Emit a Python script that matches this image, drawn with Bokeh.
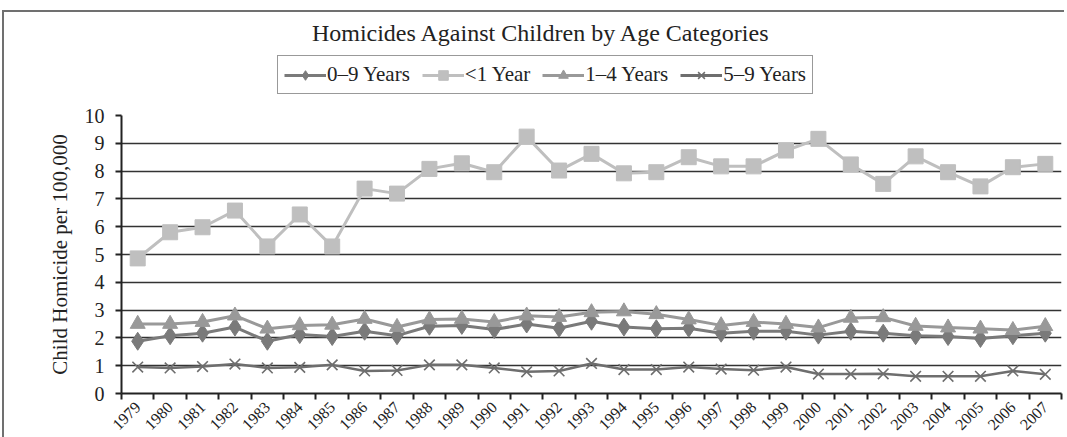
from bokeh.plotting import figure
from bokeh.layouts import column
from bokeh.models import Range1d, FixedTicker, Legend, LegendItem, Label
from bokeh.embed import file_html
from bokeh.resources import INLINE

years = [1979, 1980, 1981, 1982, 1983, 1984, 1985, 1986, 1987, 1988, 1989, 1990,
         1991, 1992, 1993, 1994, 1995, 1996, 1997, 1998, 1999, 2000, 2001, 2002,
         2003, 2004, 2005, 2006, 2007]
year_labels = [str(y) for y in years]
year_bounds = [1978.5 + i for i in range(30)]

zero_to_nine = [1.88, 2.08, 2.17, 2.39, 1.88, 2.12, 2.05, 2.24, 2.08, 2.42, 2.45, 2.30,
                2.50, 2.35, 2.60, 2.39, 2.33, 2.35, 2.17, 2.24, 2.24, 2.10, 2.24, 2.17,
                2.08, 2.05, 1.98, 2.08, 2.17]
under_one = [4.86, 5.80, 5.98, 6.58, 5.29, 6.44, 5.29, 7.37, 7.19, 8.08, 8.28, 7.96,
             9.24, 8.02, 8.62, 7.92, 7.96, 8.50, 8.17, 8.17, 8.74, 9.16, 8.24, 7.54,
             8.53, 7.96, 7.45, 8.14, 8.26]
one_to_four = [2.50, 2.50, 2.57, 2.80, 2.33, 2.45, 2.47, 2.68, 2.39, 2.66, 2.68, 2.57,
               2.80, 2.75, 2.92, 2.95, 2.85, 2.66, 2.45, 2.57, 2.50, 2.37, 2.72, 2.74,
               2.43, 2.37, 2.33, 2.28, 2.42]
five_to_nine = [0.95, 0.92, 0.97, 1.06, 0.92, 0.94, 1.03, 0.81, 0.83, 1.03, 1.03, 0.92,
                0.78, 0.81, 1.08, 0.86, 0.86, 0.95, 0.88, 0.84, 0.95, 0.70, 0.70, 0.71,
                0.62, 0.62, 0.62, 0.81, 0.69]

series_labels = ["0\u20139 Years", "<1 Year", "1\u20134 Years", "5\u20139 Years"]
y_ticks = [0, 1, 2, 3, 4, 5, 6, 7, 8, 9, 10]
title_text = "Homicides Against Children by Age Categories"
y_label = "Child Homicide per 100,000"

FONT = "Liberation Serif"
TXT = "#222222"
c_09, c_u1, c_14, c_59 = "#7a7a7a", "#bfbfbf", "#999999", "#6e6e6e"

W = 1060
FRAME_W = 940
HEAD_H = 92

# ---------- header: title + legend (frame aligned with the chart frame) ----------
head = figure(width=W, height=HEAD_H, output_backend="svg", toolbar_location=None,
              x_range=Range1d(0, FRAME_W), y_range=Range1d(0, HEAD_H),
              x_axis_type=None, y_axis_type=None,
              min_border_left=117, min_border_right=3, min_border_top=0,
              min_border_bottom=0)
head.outline_line_color = None
head.xgrid.visible = False
head.ygrid.visible = False

head.add_layout(Label(x=420, y=72, text=title_text, text_align="center",
                      text_baseline="middle", text_font=FONT,
                      text_font_size="24px", text_color=TXT))

# legend renderers use the real series (they fall outside this header's view)
h1l = head.line(years, zero_to_nine, line_color=c_09, line_width=3)
h1m = head.scatter(years, zero_to_nine, marker="diamond", size=12, fill_color=c_09, line_color=c_09)
h2l = head.line(years, under_one, line_color=c_u1, line_width=3)
h2m = head.scatter(years, under_one, marker="square", size=12, fill_color=c_u1, line_color=c_u1)
h3l = head.line(years, one_to_four, line_color=c_14, line_width=3)
h3m = head.scatter(years, one_to_four, marker="triangle", size=12, fill_color=c_14, line_color=c_14)
h4l = head.line(years, five_to_nine, line_color=c_59, line_width=3)
h4m = head.scatter(years, five_to_nine, marker="x", size=12, line_color=c_59, line_width=1.5)

legend = Legend(items=[
    LegendItem(label=series_labels[0], renderers=[h1l, h1m]),
    LegendItem(label=series_labels[1], renderers=[h2l, h2m]),
    LegendItem(label=series_labels[2], renderers=[h3l, h3m]),
    LegendItem(label=series_labels[3], renderers=[h4l, h4m]),
], orientation="horizontal", location=(156, 10))
legend.label_text_font = FONT
legend.label_text_font_size = "21px"
legend.label_text_color = TXT
legend.glyph_width = 42
legend.glyph_height = 24
legend.label_standoff = 1
legend.spacing = 12
legend.padding = 6
legend.margin = 0
legend.border_line_color = "#333333"
legend.border_line_width = 1.6
legend.background_fill_alpha = 1
head.add_layout(legend, "center")

# ---------- main chart ----------
p = figure(width=W, height=333, output_backend="svg", toolbar_location=None,
           x_range=Range1d(1978.5, 2007.5), y_range=Range1d(0, 10),
           min_border_left=117, min_border_right=3, min_border_top=11,
           min_border_bottom=44)
p.outline_line_color = None

p.xaxis.ticker = FixedTicker(ticks=years, minor_ticks=year_bounds)
p.xaxis.major_label_overrides = {y: s for y, s in zip(years, year_labels)}
p.xaxis.major_label_orientation = 0.785
p.xaxis.major_tick_line_color = None
p.xaxis.major_tick_out = 0
p.xaxis.major_tick_in = 0
p.xaxis.minor_tick_line_color = TXT
p.xaxis.minor_tick_line_width = 2
p.xaxis.minor_tick_out = 6
p.xaxis.minor_tick_in = 0
p.xaxis.major_label_standoff = 5
p.xaxis.major_label_text_font = FONT
p.xaxis.major_label_text_font_size = "16px"
p.xaxis.major_label_text_color = TXT
p.xaxis.axis_line_color = TXT
p.xaxis.axis_line_width = 2

p.yaxis.ticker = FixedTicker(ticks=y_ticks)
p.yaxis.minor_tick_line_color = None
p.yaxis.major_tick_out = 6
p.yaxis.major_tick_in = 0
p.yaxis.major_tick_line_color = TXT
p.yaxis.major_tick_line_width = 2
p.yaxis.major_label_standoff = 11
p.yaxis.major_label_text_font = FONT
p.yaxis.major_label_text_font_size = "20px"
p.yaxis.major_label_text_color = TXT
p.yaxis.axis_line_color = TXT
p.yaxis.axis_line_width = 2
p.yaxis.axis_label = y_label
p.yaxis.axis_label_text_font = FONT
p.yaxis.axis_label_text_font_size = "21px"
p.yaxis.axis_label_text_font_style = "normal"
p.yaxis.axis_label_text_color = TXT
p.yaxis.axis_label_standoff = 10

p.xgrid.grid_line_color = None
p.ygrid.grid_line_color = "#333333"
p.ygrid.grid_line_width = 1.6

p.line(years, zero_to_nine, line_color=c_09, line_width=3)
p.scatter(years, zero_to_nine, marker="diamond", size=18, fill_color=c_09, line_color=c_09)
p.line(years, one_to_four, line_color=c_14, line_width=3)
p.scatter(years, one_to_four, marker="triangle", size=15, fill_color=c_14, line_color=c_14)
p.line(years, five_to_nine, line_color=c_59, line_width=2.5)
p.scatter(years, five_to_nine, marker="x", size=15, line_color=c_59, line_width=1.6)
p.line(years, under_one, line_color=c_u1, line_width=3)
p.scatter(years, under_one, marker="square", size=15, fill_color=c_u1, line_color=c_u1)

layout = column(head, p, spacing=0)
layout.styles = {"border-left": "2px solid #707070", "border-top": "2px solid #707070",
                 "margin-left": "2px", "margin-top": "10px"}

open("out.html", "w").write(file_html(layout, INLINE))
